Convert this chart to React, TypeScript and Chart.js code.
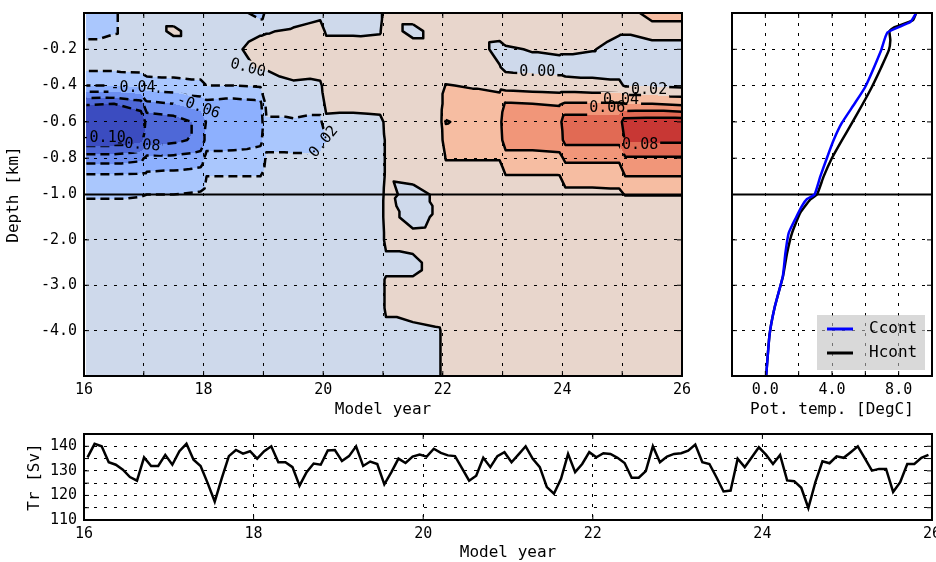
import React, { useEffect, useRef } from 'react';
import { Chart, registerables } from 'chart.js';

Chart.register(...registerables);

const MONO = "'DejaVu Sans Mono', 'Liberation Mono', monospace";

// ---------- contour (Hovmoller) data ----------
const contourYears = [16.04, 16.5, 16.95, 17.05, 17.5, 17.95, 18.05, 18.5, 18.95, 19.05, 19.5, 19.95, 20.05, 20.5, 20.95, 21.05, 21.5, 21.95, 22.05, 22.5, 22.95, 23.05, 23.5, 23.95, 24.05, 24.5, 24.95, 25.05, 25.5, 26.0];
const contourDepths = [0, 0.1, 0.2, 0.3, 0.4, 0.5, 0.6, 0.7, 0.8, 0.9, 1.0, 1.25, 1.5, 2.0, 2.5, 3.0, 3.5, 4.0, 4.5, 5.0];
// temperature anomaly, units of 0.001 degC, one row per depth
const anomalyRows = [
  [-30, -22, -8, -8, -8, -8, -8, -8, -30, -15, -8, -4, -6, -6, -4, 8, 8, 8, 8, 8, 8, 8, 8, 8, 8, 8, 8, 8, 30, 30],
  [-28, -22, -8, -8, 3, -8, -8, -8, -2, -1, 2, 6, -2, -2, -1, 8, -5, 8, 8, 8, 6, 8, 8, 8, 8, 8, 2, 2, 8, 8],
  [-10, -10, -8, -8, -8, -8, -8, -3, 6, 6, 7, 8, 6, 6, 5, 8, 8, 8, 8, 8, -5, -2, 1, 3, 3, 1, -6, -8, -8, -8],
  [-15, -15, -14, -10, -10, -10, -10, -6, 2, 2, 5, 8, 8, 8, 8, 8, 8, 8, 8, 8, 1, -4, -5, -6, -8, -8, -8, -8, -8, -8],
  [-40, -40, -35, -30, -28, -25, -20, -20, -18, -12, -2, -3, 8, 9, 10, 8, 8, 10, 21, 18, 14, 12, 10, 8, 8, 6, 4, -2, -2, -4],
  [-98, -100, -90, -65, -60, -50, -45, -48, -45, -15, -12, -12, 5, 5, 6, 6, 7, 10, 32, 30, 30, 42, 40, 38, 42, 42, 42, 40, 40, 35],
  [-125, -125, -115, -95, -90, -75, -58, -55, -50, -22, -22, -25, -4, -5, -4, 3, 6, 12, 41, 35, 35, 52, 52, 54, 72, 72, 72, 90, 92, 92],
  [-115, -115, -105, -90, -85, -75, -52, -50, -45, -24, -25, -24, -21, -10, -8, 2, 6, 10, 32, 30, 32, 50, 50, 52, 66, 66, 66, 82, 84, 84],
  [-70, -70, -65, -55, -55, -50, -32, -32, -30, -18, -18, -18, -12, -9, -8, 2, 6, 8, 21, 21, 21, 32, 32, 34, 44, 44, 44, 58, 58, 58],
  [-36, -36, -35, -35, -33, -30, -20, -20, -20, -14, -14, -12, -10, -8, -7, 2, 4, 6, 12, 12, 12, 19, 19, 19, 28, 28, 28, 40, 40, 40],
  [-25, -25, -22, -20, -20, -18, -15, -15, -15, -12, -10, -10, -8, -7, -6, 4, -5, 3, 10, 9, 9, 12, 12, 12, 15, 15, 16, 21, 21, 21],
  [-12, -12, -12, -10, -10, -10, -8, -8, -8, -8, -8, -8, -8, -7, -6, 5, -8, 3, 8, 8, 8, 8, 8, 8, 8, 8, 8, 10, 10, 10],
  [-8, -8, -8, -8, -8, -8, -8, -8, -8, -8, -8, -8, -8, -7, -6, 5, -5, 3, 8, 8, 8, 8, 8, 8, 8, 8, 8, 8, 8, 8],
  [-8, -8, -8, -8, -8, -8, -8, -8, -8, -8, -8, -8, -8, -7, -6, 3, 5, 6, 8, 8, 8, 8, 8, 8, 8, 8, 8, 8, 8, 8],
  [-8, -8, -8, -8, -8, -8, -8, -8, -8, -8, -8, -8, -8, -7, -6, -3, -3, 6, 8, 8, 8, 8, 8, 8, 8, 8, 8, 8, 8, 8],
  [-8, -8, -8, -8, -8, -8, -8, -8, -8, -8, -8, -8, -8, -7, -6, 2, 2, 6, 8, 8, 8, 8, 8, 8, 8, 8, 8, 8, 8, 8],
  [-8, -8, -8, -8, -8, -8, -8, -8, -8, -8, -8, -8, -8, -7, -6, 2, 5, 6, 8, 8, 8, 8, 8, 8, 8, 8, 8, 8, 8, 8],
  [-8, -8, -8, -8, -8, -8, -8, -8, -8, -8, -8, -8, -8, -7, -6, -3, -3, -1, 8, 8, 8, 8, 8, 8, 8, 8, 8, 8, 8, 8],
  [-8, -8, -8, -8, -8, -8, -8, -8, -8, -8, -8, -8, -8, -7, -6, -3, -3, -1, 8, 8, 8, 8, 8, 8, 8, 8, 8, 8, 8, 8],
  [-8, -8, -8, -8, -8, -8, -8, -8, -8, -8, -8, -8, -8, -7, -6, -3, -3, -1, 8, 8, 8, 8, 8, 8, 8, 8, 8, 8, 8, 8],
];
const contourLevels = [-0.10, -0.08, -0.06, -0.04, -0.02, 0.0, 0.02, 0.04, 0.06, 0.08];
const bandColors = [
  [59, 76, 192], [78, 104, 215], [108, 142, 241], [141, 176, 254], [170, 199, 253], [206, 217, 235],
  [232, 214, 204], [246, 189, 162], [241, 150, 121], [225, 106, 84], [200, 55, 52],
];
const contourLabelText = ['-0.04', '-0.06', '-0.10', '-0.08', '0.00', '0.02', '0.00', '0.02', '0.04', '0.06', '0.08'];
const contourLabelYear = [16.82, 17.91, 16.32, 16.9, 18.74, 20.01, 23.58, 25.45, 24.98, 24.75, 25.3];
const contourLabelDepth = [0.414, 0.518, 0.69, 0.726, 0.304, 0.71, 0.326, 0.425, 0.479, 0.523, 0.73];
const contourLabelAngle = [0, 20, 0, 5, 15, -50, 0, 0, 0, 0, 0];

// ---------- depth axis ----------
const depthTickKm = [0.2, 0.4, 0.6, 0.8, 1.0, 2.0, 3.0, 4.0];

// ---------- profile data ----------
const ccontDepth = [0, 0.05, 0.107, 0.205, 0.406, 0.5, 0.606, 0.7, 0.8, 0.9, 1.0, 1.1, 1.25, 1.5, 1.85, 2.3, 2.8, 3.5, 4.1, 5.0];
const ccontTemp = [9.05, 8.7, 7.33, 6.95, 6.0, 5.35, 4.59, 4.1, 3.69, 3.3, 2.95, 2.5, 2.2, 1.85, 1.4, 1.2, 1.05, 0.55, 0.25, 0.05];
const hcontDepth = [0, 0.04, 0.08, 0.1, 0.15, 0.205, 0.3, 0.406, 0.5, 0.606, 0.7, 0.8, 0.9, 1.0, 1.11, 1.4, 1.85, 2.3, 2.8, 3.5, 4.1, 5.0];
const hcontTemp = [9.05, 8.85, 7.7, 7.45, 7.5, 7.41, 6.95, 6.4, 5.85, 5.2, 4.6, 3.99, 3.5, 3.1, 2.7, 2.1, 1.6, 1.3, 1.06, 0.55, 0.25, 0.05];

// ---------- transport (monthly) ----------
const transportValues = [
  135.5, 141, 140, 133.5, 132.5, 130.5, 127.5, 126, 135.5, 132, 132, 136.5,
  132.5, 138, 141, 134.5, 132, 125, 117.5, 127, 136, 138.5, 137, 138,
  135, 138, 140, 133.5, 133.5, 131.5, 124, 129.5, 133, 132.5, 138.3, 138.5,
  134, 136, 140, 132, 133.8, 132.8, 124.5, 129.5, 135, 133.2, 135.8, 136.6,
  135.8, 139, 137.3, 136.3, 136, 131, 126, 128, 135.3, 131.5, 136, 137.6,
  133.5, 136.7, 140, 134.9, 131.5, 123.4, 120.7, 126.8, 136.9, 129.5, 132.8, 137.6,
  135.5, 137.2, 136.9, 135.3, 133.2, 127.2, 127.2, 129.9, 140, 133.5, 135.8, 136.9,
  137.2, 138.2, 140.7, 133.5, 132.8, 127.4, 121.6, 122, 134.9, 131.5, 135.5, 139.6,
  136.6, 132.8, 136.5, 126.1, 125.8, 123.1, 114.9, 125.4, 133.9, 133.1, 135.9, 135.3,
  137.6, 140, 135.1, 130.1, 130.8, 130.8, 121.4, 125.4, 132.8, 132.8, 135.3, 136.5,
];
const transportStartYear = 16;

// ---------- helpers ----------
function depthToAxis(d: number): number {
  return d <= 1 ? -d : -(1 + (d - 1) / 4);
}
function axisToDepth(v: number): number {
  return v >= -1 ? v : -1 + (v + 1) * 4;
}

const tickFont = { family: MONO, size: 15 };
const titleFont = { family: MONO, size: 16 };
const DOT = [3, 7];

function fixSize(opts: { width?: number; height?: number }) {
  return (scale: any) => {
    if (opts.width !== undefined) scale.width = opts.width;
    if (opts.height !== undefined) scale.height = opts.height;
    scale.paddingLeft = 0;
    scale.paddingRight = 0;
    scale.paddingTop = 0;
    scale.paddingBottom = 0;
  };
}

function gridOpts() {
  return { color: '#000', lineWidth: 1, drawTicks: false, borderDash: DOT };
}

function depthAxis(showLabels: boolean, width: number) {
  return {
    type: 'linear',
    position: 'left',
    min: -2,
    max: 0,
    afterBuildTicks: (axis: any) => {
      axis.ticks = depthTickKm.map((d) => ({ value: depthToAxis(d) }));
    },
    ticks: {
      display: showLabels,
      autoSkip: false,
      color: '#000',
      font: tickFont,
      padding: 7,
      callback: (v: any) => axisToDepth(Number(v)).toFixed(1),
    },
    grid: gridOpts(),
    border: { display: false, dash: DOT },
    title: { display: showLabels, text: 'Depth [km]', color: '#000', font: titleFont, padding: 0 },
    afterFit: fixSize({ width }),
  };
}

function yearAxis(step: number, height: number, evenOnly: boolean) {
  return {
    type: 'linear',
    position: 'bottom',
    min: 16,
    max: 26,
    ticks: {
      stepSize: step,
      autoSkip: false,
      maxRotation: 0,
      color: '#000',
      font: tickFont,
      padding: 5,
      callback: (v: any) => (!evenOnly || Number(v) % 2 === 0 ? String(v) : ''),
    },
    grid: gridOpts(),
    border: { display: false, dash: DOT },
    title: { display: true, text: 'Model year', color: '#000', font: titleFont, padding: 0 },
    afterFit: fixSize({ height }),
  };
}

const framePlugin = {
  id: 'frame',
  afterDraw(chart: any) {
    const { ctx, chartArea: a, scales } = chart;
    ctx.save();
    ctx.setLineDash([]);
    ctx.strokeStyle = '#000';
    ctx.lineWidth = 1;
    ctx.beginPath();
    for (const t of scales.x.ticks) {
      const p = scales.x.getPixelForValue(t.value);
      ctx.moveTo(p, a.bottom);
      ctx.lineTo(p, a.bottom - 5);
      ctx.moveTo(p, a.top);
      ctx.lineTo(p, a.top + 5);
    }
    for (const t of scales.y.ticks) {
      const p = scales.y.getPixelForValue(t.value);
      ctx.moveTo(a.left, p);
      ctx.lineTo(a.left + 5, p);
      ctx.moveTo(a.right, p);
      ctx.lineTo(a.right - 5, p);
    }
    ctx.stroke();
    ctx.lineWidth = 2;
    ctx.strokeRect(a.left, a.top, a.right - a.left, a.bottom - a.top);
    ctx.restore();
  },
};

function gridPixels(chart: any) {
  const xs = chart.scales.x;
  const ys = chart.scales.y;
  const gx = contourYears.map((v) => xs.getPixelForValue(v));
  const gy = contourDepths.map((d) => ys.getPixelForValue(depthToAxis(d)));
  const V = anomalyRows.map((r) => r.map((v) => v / 1000));
  return { gx, gy, V };
}

function traceLevel(gx: number[], gy: number[], V: number[][], L: number) {
  const nx = gx.length;
  const ny = gy.length;
  const segs: any[] = [];
  const byKey = new Map<string, number[]>();
  const node = (i: number, j: number) => ({ i, j, x: gx[i], y: gy[j], v: V[j][i] });
  for (let j = 0; j < ny - 1; j++) {
    for (let i = 0; i < nx - 1; i++) {
      const n00 = node(i, j), n10 = node(i + 1, j), n11 = node(i + 1, j + 1), n01 = node(i, j + 1);
      const tris = [[n00, n10, n11], [n00, n11, n01]];
      for (const tri of tris) {
        const cross: any[] = [];
        for (let e = 0; e < 3; e++) {
          const A = tri[e];
          const B = tri[(e + 1) % 3];
          if ((A.v >= L) !== (B.v >= L)) {
            const t = (L - A.v) / (B.v - A.v);
            const ka = A.j * 1000 + A.i;
            const kb = B.j * 1000 + B.i;
            const key = Math.min(ka, kb) + '_' + Math.max(ka, kb);
            cross.push({ key, p: [A.x + t * (B.x - A.x), A.y + t * (B.y - A.y)] });
          }
        }
        if (cross.length === 2) {
          const idx = segs.length;
          segs.push({ ka: cross[0].key, kb: cross[1].key, pa: cross[0].p, pb: cross[1].p });
          for (const k of [cross[0].key, cross[1].key]) {
            if (!byKey.has(k)) byKey.set(k, []);
            byKey.get(k)!.push(idx);
          }
        }
      }
    }
  }
  const used = new Array(segs.length).fill(false);
  const nextFrom = (key: string) => (byKey.get(key) || []).find((s) => !used[s]);
  const lines: number[][][] = [];
  for (let s0 = 0; s0 < segs.length; s0++) {
    if (used[s0]) continue;
    used[s0] = true;
    const line = [segs[s0].pa, segs[s0].pb];
    let key = segs[s0].kb;
    for (;;) {
      const s = nextFrom(key);
      if (s === undefined) break;
      used[s] = true;
      const sg = segs[s];
      if (sg.ka === key) { line.push(sg.pb); key = sg.kb; } else { line.push(sg.pa); key = sg.ka; }
    }
    key = segs[s0].ka;
    for (;;) {
      const s = nextFrom(key);
      if (s === undefined) break;
      used[s] = true;
      const sg = segs[s];
      if (sg.ka === key) { line.unshift(sg.pb); key = sg.kb; } else { line.unshift(sg.pa); key = sg.ka; }
    }
    lines.push(line);
  }
  return lines;
}

const contourPlugin = {
  id: 'contour',
  beforeDraw(chart: any) {
    const { ctx, chartArea: a } = chart;
    const { gx, gy, V } = gridPixels(chart);
    const L0 = Math.round(a.left);
    const T0 = Math.round(a.top);
    const W = Math.round(a.right) - L0;
    const H = Math.round(a.bottom) - T0;
    const img = ctx.createImageData(W, H);
    const colIdx = new Int32Array(W);
    const colU = new Float32Array(W);
    for (let p = 0; p < W; p++) {
      const X = L0 + p + 0.5;
      let i = -1;
      if (X >= gx[0] && X <= gx[gx.length - 1]) {
        i = 0;
        while (i < gx.length - 2 && X > gx[i + 1]) i++;
        colU[p] = (X - gx[i]) / (gx[i + 1] - gx[i]);
      }
      colIdx[p] = i;
    }
    const rowIdx = new Int32Array(H);
    const rowW = new Float32Array(H);
    for (let q = 0; q < H; q++) {
      const Y = T0 + q + 0.5;
      let j = -1;
      if (Y >= gy[0] && Y <= gy[gy.length - 1]) {
        j = 0;
        while (j < gy.length - 2 && Y > gy[j + 1]) j++;
        rowW[q] = (Y - gy[j]) / (gy[j + 1] - gy[j]);
      }
      rowIdx[q] = j;
    }
    const d = img.data;
    for (let q = 0; q < H; q++) {
      const j = rowIdx[q];
      if (j < 0) continue;
      const w = rowW[q];
      for (let p = 0; p < W; p++) {
        const i = colIdx[p];
        if (i < 0) continue;
        const u = colU[p];
        const v00 = V[j][i], v10 = V[j][i + 1], v01 = V[j + 1][i], v11 = V[j + 1][i + 1];
        const v = u >= w ? v00 + u * (v10 - v00) + w * (v11 - v10) : v00 + w * (v01 - v00) + u * (v11 - v01);
        let b = 0;
        while (b < contourLevels.length && v >= contourLevels[b]) b++;
        const c = bandColors[b];
        const o = (q * W + p) * 4;
        d[o] = c[0]; d[o + 1] = c[1]; d[o + 2] = c[2]; d[o + 3] = 255;
      }
    }
    ctx.putImageData(img, L0, T0);
  },
  afterDatasetsDraw(chart: any) {
    const { ctx, chartArea: a } = chart;
    const xs = chart.scales.x;
    const ys = chart.scales.y;
    const { gx, gy, V } = gridPixels(chart);
    ctx.save();
    ctx.font = `15px ${MONO}`;
    const labs = contourLabelText.map((t, k) => ({
      t,
      x: xs.getPixelForValue(contourLabelYear[k]),
      y: ys.getPixelForValue(depthToAxis(contourLabelDepth[k])),
      ang: (contourLabelAngle[k] * Math.PI) / 180,
      w: ctx.measureText(t).width,
    }));
    ctx.beginPath();
    ctx.rect(a.left, a.top, a.right - a.left, a.bottom - a.top);
    for (const l of labs) {
      const hw = l.w / 2 + 2, hh = 8;
      const c = Math.cos(l.ang), s = Math.sin(l.ang);
      const pts = [[-hw, -hh], [hw, -hh], [hw, hh], [-hw, hh]].map(([dx, dy]) => [l.x + dx * c - dy * s, l.y + dx * s + dy * c]);
      ctx.moveTo(pts[0][0], pts[0][1]);
      for (let k = 1; k < 4; k++) ctx.lineTo(pts[k][0], pts[k][1]);
      ctx.closePath();
    }
    ctx.clip('evenodd');
    ctx.strokeStyle = '#000';
    ctx.lineWidth = 2.5;
    ctx.lineJoin = 'round';
    for (const level of contourLevels) {
      const lines = traceLevel(gx, gy, V, level);
      ctx.setLineDash(level < 0 ? [9, 5] : []);
      for (const line of lines) {
        ctx.beginPath();
        ctx.moveTo(line[0][0], line[0][1]);
        for (let k = 1; k < line.length; k++) ctx.lineTo(line[k][0], line[k][1]);
        ctx.stroke();
      }
    }
    ctx.restore();

    ctx.save();
    ctx.beginPath();
    ctx.rect(a.left, a.top, a.right - a.left, a.bottom - a.top);
    ctx.clip();
    ctx.fillStyle = '#000';
    ctx.font = `15px ${MONO}`;
    ctx.textAlign = 'center';
    ctx.textBaseline = 'middle';
    for (const l of labs) {
      ctx.save();
      ctx.translate(l.x, l.y);
      ctx.rotate(l.ang);
      ctx.fillText(l.t, 0, 0);
      ctx.restore();
    }
    ctx.restore();
  },
};

const profileLegendPlugin = {
  id: 'profileLegend',
  afterDraw(chart: any) {
    const { ctx, chartArea: a } = chart;
    const items = chart.data.datasets.filter((ds: any) => ds.label);
    const x0 = a.right - 115, y0 = a.bottom - 61, w = 108, h = 55;
    ctx.save();
    ctx.setLineDash([]);
    ctx.fillStyle = 'rgba(191,191,191,0.6)';
    ctx.fillRect(x0, y0, w, h);
    items.forEach((ds: any, k: number) => {
      const y = y0 + 14 + k * 24;
      ctx.strokeStyle = ds.borderColor;
      ctx.lineWidth = 3;
      ctx.beginPath();
      ctx.moveTo(x0 + 10, y);
      ctx.lineTo(x0 + 36, y);
      ctx.stroke();
      ctx.fillStyle = '#000';
      ctx.font = `16px ${MONO}`;
      ctx.textBaseline = 'middle';
      ctx.textAlign = 'left';
      ctx.fillText(ds.label, x0 + 52, y);
    });
    ctx.restore();
  },
};

const baseOptions = {
  responsive: false,
  maintainAspectRatio: false,
  animation: false,
  devicePixelRatio: 1,
  events: [],
};

export default function App() {
  const mainRef = useRef<HTMLCanvasElement>(null);
  const profRef = useRef<HTMLCanvasElement>(null);
  const trRef = useRef<HTMLCanvasElement>(null);

  useEffect(() => {
    const charts: Chart[] = [];

    charts.push(
      new Chart(mainRef.current as HTMLCanvasElement, {
        type: 'scatter',
        data: {
          datasets: [
            {
              label: '',
              data: [{ x: 16, y: depthToAxis(1) }, { x: 26, y: depthToAxis(1) }],
              showLine: true,
              borderColor: '#000',
              borderWidth: 2,
              pointRadius: 0,
            },
          ],
        },
        options: {
          ...baseOptions,
          layout: { padding: { left: 4, right: 254, top: 13, bottom: 143 } },
          plugins: { legend: { display: false }, tooltip: { enabled: false } },
          scales: { x: yearAxis(1, 43, true), y: depthAxis(true, 80) },
        } as any,
        plugins: [contourPlugin, framePlugin],
      } as any)
    );

    charts.push(
      new Chart(profRef.current as HTMLCanvasElement, {
        type: 'scatter',
        data: {
          datasets: [
            {
              label: 'Ccont',
              data: ccontTemp.map((t, i) => ({ x: t, y: depthToAxis(ccontDepth[i]) })),
              showLine: true,
              borderColor: '#0000ff',
              borderWidth: 2.5,
              pointRadius: 0,
              tension: 0.15,
            },
            {
              label: 'Hcont',
              data: hcontTemp.map((t, i) => ({ x: t, y: depthToAxis(hcontDepth[i]) })),
              showLine: true,
              borderColor: '#000000',
              borderWidth: 2.5,
              pointRadius: 0,
              tension: 0.15,
            },
            {
              label: '',
              data: [{ x: -2, y: depthToAxis(1) }, { x: 10, y: depthToAxis(1) }],
              showLine: true,
              borderColor: '#000',
              borderWidth: 2,
              pointRadius: 0,
            },
          ],
        },
        options: {
          ...baseOptions,
          layout: { padding: { left: 732, right: 4, top: 13, bottom: 143 } },
          plugins: { legend: { display: false }, tooltip: { enabled: false } },
          scales: {
            x: {
              type: 'linear',
              position: 'bottom',
              min: -2,
              max: 10,
              ticks: {
                stepSize: 2,
                autoSkip: false,
                maxRotation: 0,
                color: '#000',
                font: tickFont,
                padding: 5,
                callback: (v: any) => (Number(v) === 0 || Number(v) === 4 || Number(v) === 8 ? Number(v).toFixed(1) : ''),
              },
              grid: gridOpts(),
              border: { display: false, dash: DOT },
              title: { display: true, text: 'Pot. temp. [DegC]', color: '#000', font: titleFont, padding: 0 },
              afterFit: fixSize({ height: 43 }),
            },
            y: depthAxis(false, 0),
          },
        } as any,
        plugins: [profileLegendPlugin, framePlugin],
      } as any)
    );

    charts.push(
      new Chart(trRef.current as HTMLCanvasElement, {
        type: 'scatter',
        data: {
          datasets: [
            {
              label: 'Tr',
              data: transportValues.map((v, k) => ({ x: transportStartYear + (k + 0.5) / 12, y: v })),
              showLine: true,
              borderColor: '#000',
              borderWidth: 2.5,
              pointRadius: 0,
            },
          ],
        },
        options: {
          ...baseOptions,
          layout: { padding: { left: 25, right: 4, top: 434, bottom: 0 } },
          plugins: { legend: { display: false }, tooltip: { enabled: false } },
          scales: {
            x: yearAxis(2, 42, false),
            y: {
              type: 'linear',
              position: 'left',
              min: 110,
              max: 145,
              ticks: {
                stepSize: 5,
                autoSkip: false,
                color: '#000',
                font: tickFont,
                padding: 7,
                callback: (v: any) => (Number(v) % 10 === 0 ? String(v) : ''),
              },
              grid: gridOpts(),
              border: { display: false, dash: DOT },
              title: { display: true, text: 'Tr [Sv]', color: '#000', font: titleFont, padding: 0 },
              afterFit: fixSize({ width: 59 }),
            },
          },
        } as any,
        plugins: [framePlugin],
      } as any)
    );

    return () => charts.forEach((c) => c.destroy());
  }, []);

  const cs: React.CSSProperties = { position: 'absolute', left: 0, top: 0 };
  return (
    <div style={{ position: 'absolute', left: 0, top: 0, width: 936, height: 562, background: '#fff' }}>
      <canvas ref={mainRef} width={936} height={562} style={cs} />
      <canvas ref={profRef} width={936} height={562} style={cs} />
      <canvas ref={trRef} width={936} height={562} style={cs} />
    </div>
  );
}
